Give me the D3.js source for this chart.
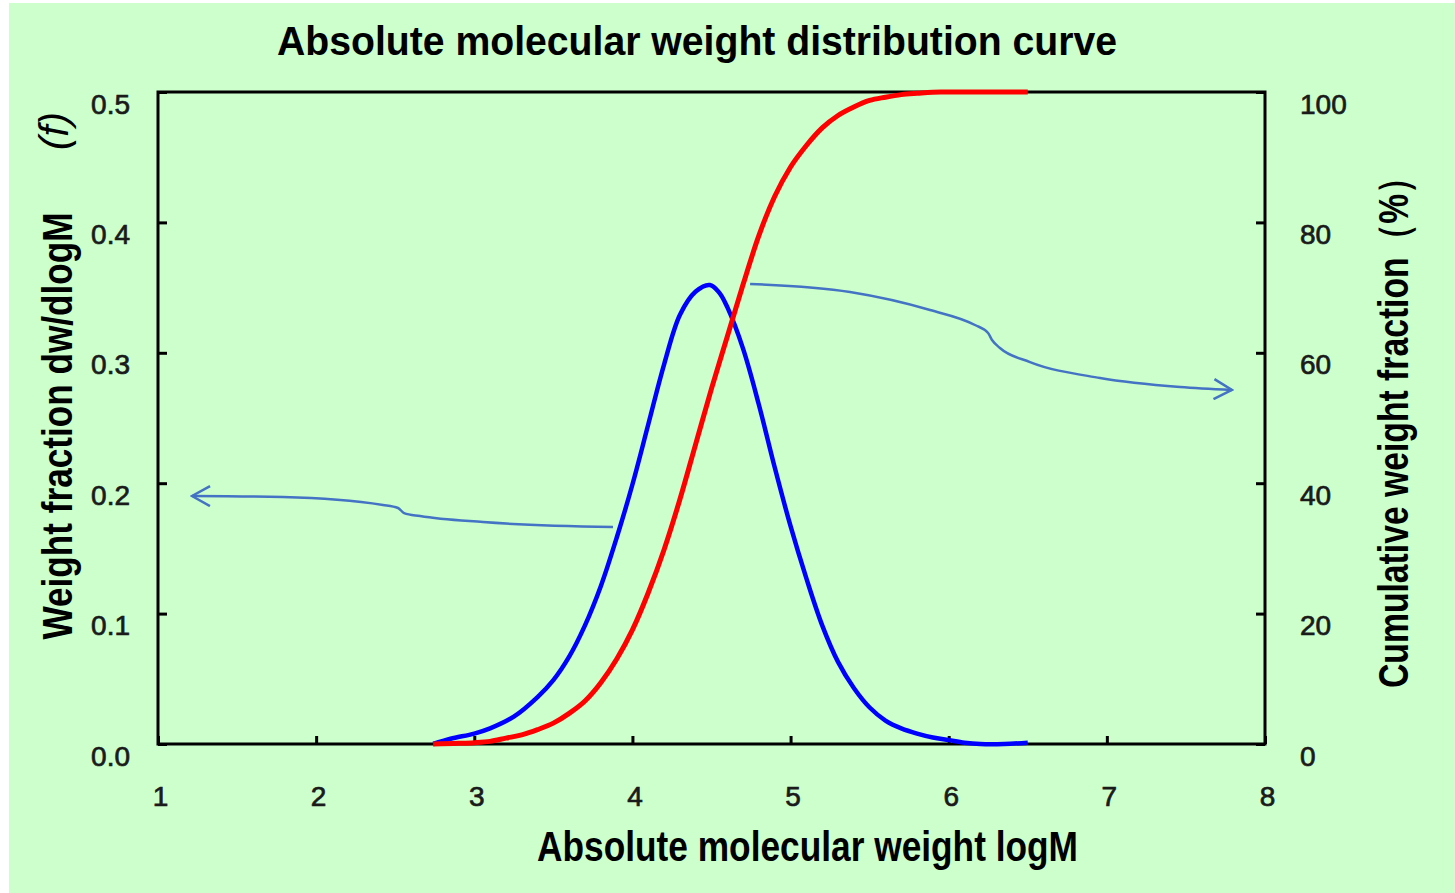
<!DOCTYPE html>
<html>
<head>
<meta charset="utf-8">
<script src="https://cdn.jsdelivr.net/npm/d3@7/dist/d3.min.js"></script>
<style>
body { margin: 0; background: #fff; }
text { font-family: "Liberation Sans", Arial, sans-serif; fill: #000; }
</style>
</head>
<body>
<div id="chart"></div>
<script>
// Page size
var width = 1455;
var height = 893;

// Plot frame in pixels
var plot_left = 158;
var plot_right = 1265;
var plot_top = 92;
var plot_bottom = 744;

// logM sample points of the distribution (blue) curve and dw/dlogM values
var dist_logm = [2.74, 2.85, 3.0, 3.1, 3.25, 3.4, 3.5, 3.6, 3.7, 3.8, 3.9, 4.0, 4.1, 4.2, 4.3, 4.4, 4.49,
	4.55, 4.6, 4.7, 4.8, 4.9, 5.0, 5.1, 5.2, 5.3, 5.4, 5.5, 5.6, 5.7, 5.8, 5.9, 6.0, 6.1, 6.2, 6.35, 6.5];
var dist_values = [0.000, 0.004, 0.008, 0.012, 0.021, 0.036, 0.049, 0.067, 0.091, 0.121, 0.158, 0.199, 0.245,
	0.291, 0.329, 0.347, 0.352, 0.346, 0.335, 0.303, 0.260, 0.212, 0.167, 0.127, 0.091, 0.063, 0.043, 0.028,
	0.018, 0.012, 0.008, 0.005, 0.003, 0.001, 0.000, 0.000, 0.001];

// logM sample points of the cumulative (red) curve and percent values
var cum_logm = [2.74, 2.9, 3.0, 3.1, 3.2, 3.3, 3.4, 3.5, 3.6, 3.7, 3.8, 3.9, 4.0, 4.1, 4.2, 4.3, 4.4, 4.5,
	4.6, 4.7, 4.8, 4.9, 5.0, 5.1, 5.2, 5.3, 5.4, 5.5, 5.6, 5.7, 5.8, 5.95, 6.5];
var cum_values = [0, 0.1, 0.2, 0.4, 0.9, 1.4, 2.2, 3.2, 4.7, 6.6, 9.4, 13.0, 17.5, 23.2, 29.8, 37.5, 46.0, 54.5,
	62.5, 70.5, 78.0, 84.0, 88.5, 91.8, 94.5, 96.4, 97.7, 98.7, 99.2, 99.6, 99.8, 100, 100];

// Tick values
var x_ticks = [1, 2, 3, 4, 5, 6, 7, 8];
var left_ticks = [0, 0.1, 0.2, 0.3, 0.4, 0.5];
var right_ticks = [0, 20, 40, 60, 80, 100];

// Annotation arrows, in (logM, dw/dlogM) units
var arrow_right = [[4.744, 0.3528], [5.376, 0.3466], [5.882, 0.3328], [6.166, 0.3213], [6.249, 0.3152],
	[6.274, 0.3098], [6.324, 0.3037], [6.514, 0.2929], [6.957, 0.2807], [7.463, 0.2738], [7.791, 0.2715]];
var arrow_left = [[1.215, 0.1902], [1.790, 0.1894], [2.423, 0.1833], [2.518, 0.1810], [2.556, 0.1771],
	[2.657, 0.1748], [3.055, 0.1702], [3.877, 0.1664]];

var x_scale = d3.scaleLinear().domain([1, 8]).range([plot_left, plot_right]);
var y_left = d3.scaleLinear().domain([0, 0.5]).range([plot_bottom, plot_top]);
var y_right = d3.scaleLinear().domain([0, 100]).range([plot_bottom, plot_top]);

var svg = d3.select("#chart").append("svg")
	.attr("width", width)
	.attr("height", height);

// light green page background
svg.append("rect")
	.attr("x", 9).attr("y", 3)
	.attr("width", width - 9).attr("height", height - 3)
	.style("fill", "#ccffcc");

var defs = svg.append("defs");
defs.append("marker")
	.attr("id", "chevron")
	.attr("markerUnits", "userSpaceOnUse")
	.attr("viewBox", "0 0 22 22")
	.attr("markerWidth", 22).attr("markerHeight", 22)
	.attr("refX", 20).attr("refY", 11)
	.attr("orient", "auto-start-reverse")
	.append("path")
	.attr("d", "M2,1 L20,11 L2,21")
	.style("fill", "none")
	.style("stroke", "#4472c4")
	.style("stroke-width", 2.5);

// Title
svg.append("text")
	.attr("x", 277).attr("y", 55)
	.attr("textLength", 840).attr("lengthAdjust", "spacingAndGlyphs")
	.style("font-size", "40px").style("font-weight", "bold")
	.text("Absolute molecular weight distribution curve");

// Axes, ticks point inward
var ax_left = svg.append("g")
	.attr("transform", "translate(" + plot_left + ",0)")
	.call(d3.axisLeft(y_left).tickValues(left_ticks).tickFormat(d3.format(".1f"))
		.tickSizeInner(-9).tickSizeOuter(0).tickPadding(28));

var ax_right = svg.append("g")
	.attr("transform", "translate(" + plot_right + ",0)")
	.call(d3.axisRight(y_right).tickValues(right_ticks)
		.tickSizeInner(-9).tickSizeOuter(0).tickPadding(35));

var ax_bottom = svg.append("g")
	.attr("transform", "translate(0," + plot_bottom + ")")
	.call(d3.axisBottom(x_scale).tickValues(x_ticks).tickFormat(d3.format("d"))
		.tickSizeInner(-8).tickSizeOuter(0).tickPadding(42));

[ax_left, ax_right, ax_bottom].forEach(function(ax) {
	ax.select(".domain").remove();
	ax.selectAll("line").style("stroke", "#000").style("stroke-width", 3);
	ax.selectAll("text")
		.style("font-family", "'Liberation Sans', Arial, sans-serif")
		.style("font-size", "28px")
		.style("fill", "#1a1a1a")
		.style("stroke", "#1a1a1a")
		.style("stroke-width", 0.7);
});
ax_left.selectAll("text").attr("dy", "0.75em");
ax_right.selectAll("text").attr("dy", "0.75em");
ax_bottom.selectAll("text").attr("dx", "2");

// plot frame
svg.append("rect")
	.attr("x", plot_left).attr("y", plot_top)
	.attr("width", plot_right - plot_left)
	.attr("height", plot_bottom - plot_top)
	.style("fill", "none")
	.style("stroke", "#000")
	.style("stroke-width", 3);

// Axis titles
svg.append("text")
	.attr("x", 537).attr("y", 861)
	.attr("textLength", 541).attr("lengthAdjust", "spacingAndGlyphs")
	.style("font-size", "42px").style("font-weight", "bold")
	.text("Absolute molecular weight logM");

svg.append("text")
	.attr("transform", "translate(72,426) rotate(-90)")
	.attr("text-anchor", "middle")
	.attr("textLength", 427).attr("lengthAdjust", "spacingAndGlyphs")
	.style("font-size", "42px").style("font-weight", "bold")
	.text("Weight fraction dw/dlogM");

svg.append("text")
	.attr("transform", "translate(68,131) rotate(-90)")
	.attr("text-anchor", "middle")
	.style("font-size", "40px").style("font-style", "italic")
	.text("(f)");

svg.append("text")
	.attr("transform", "translate(1408,424) rotate(-90)")
	.attr("text-anchor", "middle")
	.attr("textLength", 528).attr("lengthAdjust", "spacingAndGlyphs")
	.style("font-size", "42px").style("font-weight", "bold")
	.text("Cumulative weight fraction（%）");

// Curves
var dist_data = dist_logm.map(function(m, i) { return [m, dist_values[i]]; });
var cum_data = cum_logm.map(function(m, i) { return [m, cum_values[i]]; });

var dist_line = d3.line()
	.x(function(d) { return x_scale(d[0]); })
	.y(function(d) { return y_left(d[1]); })
	.curve(d3.curveCatmullRom.alpha(0.5));

var cum_line = d3.line()
	.x(function(d) { return x_scale(d[0]); })
	.y(function(d) { return y_right(d[1]); })
	.curve(d3.curveMonotoneX);

var arrow_line = d3.line()
	.x(function(d) { return x_scale(d[0]); })
	.y(function(d) { return y_left(d[1]); })
	.curve(d3.curveMonotoneX);

svg.append("path")
	.datum(dist_data)
	.attr("d", dist_line)
	.style("fill", "none")
	.style("stroke", "#0000ff")
	.style("stroke-width", 4.5);

svg.append("path")
	.datum(cum_data)
	.attr("d", cum_line)
	.style("fill", "none")
	.style("stroke", "#ff0000")
	.style("stroke-width", 5);

// Annotation arrows pointing at each curve's axis
svg.append("path")
	.datum(arrow_right)
	.attr("d", arrow_line)
	.attr("marker-end", "url(#chevron)")
	.style("fill", "none")
	.style("stroke", "#4472c4")
	.style("stroke-width", 2.5);

svg.append("path")
	.datum(arrow_left)
	.attr("d", arrow_line)
	.attr("marker-start", "url(#chevron)")
	.style("fill", "none")
	.style("stroke", "#4472c4")
	.style("stroke-width", 2.5);
</script>
</body>
</html>
